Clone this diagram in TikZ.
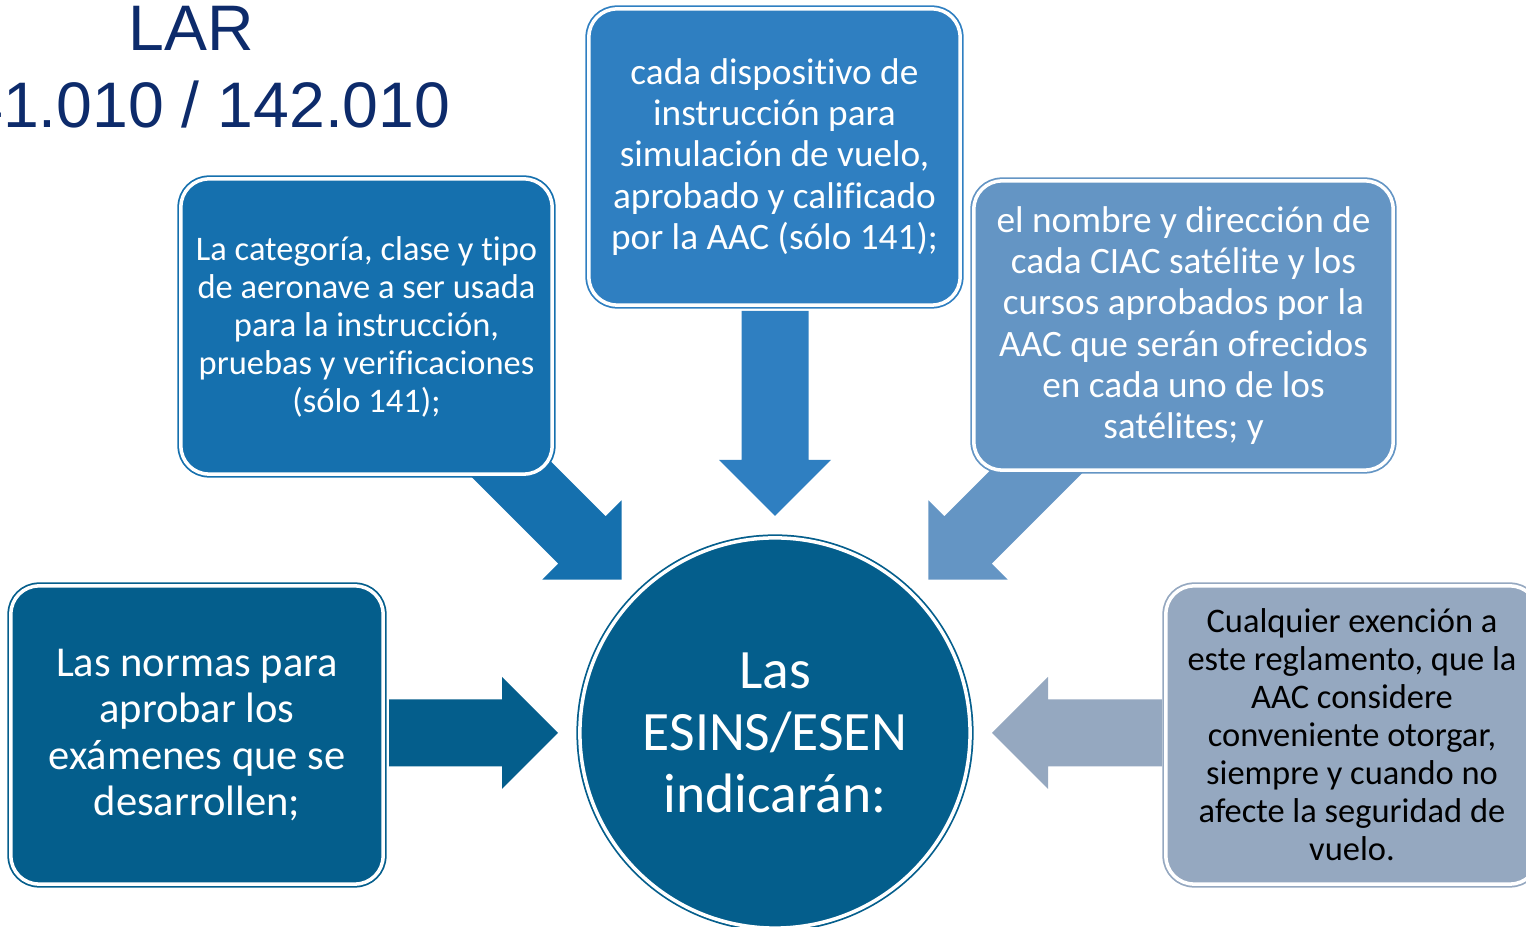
\documentclass[tikz,border=0pt]{standalone}
\usepackage{fontspec}
\setmainfont{Carlito}[Ligatures=NoCommon]
\newfontfamily\titlefont{Liberation Sans}
\usetikzlibrary{calc}
\definecolor{catblue}{HTML}{1570AE}
\definecolor{simblue}{HTML}{2F7FC1}
\definecolor{satblue}{HTML}{6495C4}
\definecolor{exgray}{HTML}{95A8C0}
\definecolor{normblue}{HTML}{045E8C}
\definecolor{lartext}{HTML}{0D2B6B}

\begin{document}
\begin{tikzpicture}[x=0.01cm,y=0.01cm,
  box/.style={rectangle,rounded corners=0.28cm,draw=#1,fill=#1,double=white,double distance=1pt,line width=0.5pt,align=center,text=white,minimum width=3.71cm,minimum height=2.95cm,inner sep=0pt},
  fs/.style 2 args={font=\fontsize{#1}{#2}\selectfont}]
\clip (0,0) rectangle (1526,927);
\node (lar) [align=center,text=lartext,font={\titlefont\fontsize{18.3}{21.9}\selectfont}] at (191,860) {LAR\\141.010 / 142.010};
\node (esins) [circle,draw=normblue,fill=normblue,double=white,double distance=1pt,line width=0.5pt,minimum size=3.9cm,inner sep=0pt,align=center,text=white,fs={15.8}{17.6}] at (775,194) {Las\\ESINS/ESEN\\indicarán:};
\foreach \col/\ang/\len in {catblue/135/190, simblue/90/205, satblue/45/190, normblue/180/169, exgray/0/170}
  \fill[\col,shift={($(esins.center)+(\ang:217)$)},rotate=\ang+180] (0,0) -- (-56,56) -- (-56,33.5) -- (-\len,33.5) -- (-\len,-33.5) -- (-56,-33.5) -- (-56,-56) -- cycle;
\node (cat) [box=catblue,fs={9.8}{10.8}] at (366.5,600.5) {La categoría, clase y tipo\\de aeronave a ser usada\\para la instrucción,\\pruebas y verificaciones\\(sólo 141);};
\node (sim) [box=simblue,fs={10.6}{11.7},minimum height=2.96cm] at (774.5,770) {cada dispositivo de\\instrucción para\\simulación de vuelo,\\aprobado y calificado\\por la AAC (sólo 141);};
\node (sat) [box=satblue,fs={10.6}{11.7},minimum width=4.19cm,minimum height=2.89cm] at (1183.5,601.5) {el nombre y dirección de\\cada CIAC satélite y los\\cursos aprobados por la\\AAC que serán ofrecidos\\en cada uno de los\\satélites; y};
\node (norm) [box=normblue,fs={12.1}{13.2},minimum width=3.72cm,minimum height=2.98cm] at (197,192) {Las normas para\\aprobar los\\exámenes que se\\desarrollen;};
\node (exen) [box=exgray,fs={9.8}{10.8},text=black,minimum width=3.72cm,minimum height=2.98cm] at (1352,192) {Cualquier exención a\\este reglamento, que la\\AAC considere\\conveniente otorgar,\\siempre y cuando no\\afecte la seguridad de\\vuelo.};
\end{tikzpicture}
\end{document}
